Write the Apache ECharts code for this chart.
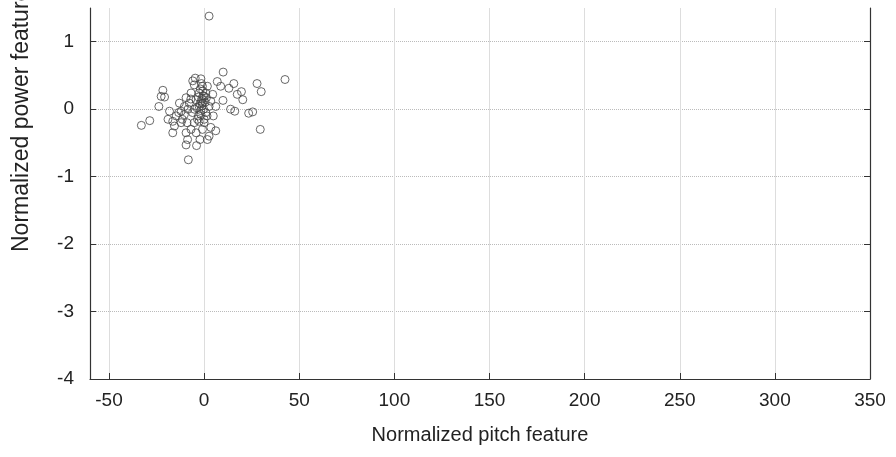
<!DOCTYPE html>
<html>
<head>
<meta charset="utf-8">
<script src="https://cdn.jsdelivr.net/npm/echarts@6/dist/echarts.min.js"></script>
<style>html,body{margin:0;padding:0;background:#fff;}#c{width:896px;height:457px;}</style>
</head>
<body>
<div id="c"></div>
<script>
const xTicks = [-50, 0, 50, 100, 150, 200, 250, 300, 350];
const yTicks = [-4, -3, -2, -1, 0, 1];
const pitch = [2.6,10,42.5,27.8,30,15.6,19.6,17.4,20.3,6.9,8.7,13,9.9,13.9,16.1,23.4,25.5,29.5,-21.7,-22.6,-20.8,-23.8,-28.6,-33,-18.2,-16.5,-15.6,-12.1,-13.4,-16.5,-9.5,-6.9,-8.7,-9.5,-4,-8.3,1.7,2.6,6.1,3.5,-0.9,0,-2.6,-4.7,-1.7,-5.2,-0.9,1.7,-6.9,-9.5,-10.4,-7.8,2.6,3.5,0,0.9,-1.7,-6.1,-5.2,-2.6,-0.9,-4.3,-2.6,0.9,-13,-12.1,-10.4,-14.7,-3.5,0,-5.2,6.1,-1.5,-0.5,-2,-1,0.5,-3,-1.2,-0.3,1.2,-2.2,-3.8,-1.8,-0.7,-1.4,4.5,-7,-8.5,-11.5,-4.2,-2.2,-3,1.5,4.8,-9,-19,-6];
const power = [1.38,0.55,0.44,0.38,0.26,0.38,0.26,0.22,0.14,0.41,0.34,0.31,0.13,0,-0.03,-0.06,-0.04,-0.3,0.28,0.19,0.18,0.04,-0.17,-0.24,-0.03,-0.18,-0.25,-0.2,-0.05,-0.35,-0.35,-0.3,-0.45,-0.53,-0.54,-0.75,-0.45,-0.4,-0.32,-0.27,-0.3,-0.2,-0.18,0.46,0.45,0.36,0.34,0.34,0.24,0.17,0.04,0.09,0.04,0.12,0.19,-0.05,-0.08,-0.05,0,0.04,0.09,0.14,0.24,0.24,0.09,-0.03,-0.08,-0.1,-0.15,-0.15,-0.2,0.04,0.12,0.2,0.3,0.05,0.1,0.18,0.16,0,0.17,0.08,0.02,-0.02,0.27,0.38,0.22,0.15,0,-0.15,-0.35,-0.45,-0.1,-0.1,-0.1,-0.2,-0.15,0.42];
const xTitle = 'Normalized pitch feature';
const yTitle = 'Normalized power feature';

const points = pitch.map((x, i) => [x, power[i]]);
const font = 'Liberation Sans, Arial, sans-serif';
const chart = echarts.init(document.getElementById('c'), null, {renderer: 'canvas'});
chart.setOption({
  backgroundColor: '#fff',
  animation: false,
  grid: {left: 90, right: 26, top: 8, bottom: 78},
  xAxis: {
    type: 'value', min: -60, max: 350,
    name: xTitle, nameLocation: 'middle', nameGap: 46,
    nameTextStyle: {fontFamily: font, fontSize: 20, color: '#222'},
    axisLine: {show: true, onZero: false, lineStyle: {color: '#333', width: 1.2}},
    axisTick: {show: true, inside: true, length: 6, customValues: xTicks, lineStyle: {color: '#333'}},
    axisLabel: {customValues: xTicks, fontFamily: font, fontSize: 19, color: '#222', margin: 12},
    splitLine: {show: true, lineStyle: {color: '#ddd', width: 1}}
  },
  yAxis: [{
    type: 'value', min: -4, max: 1.5, position: 'left',
    axisLine: {show: true, onZero: false, lineStyle: {color: '#333', width: 1.2}},
    axisTick: {show: true, inside: true, length: 6, customValues: yTicks, lineStyle: {color: '#333'}},
    axisLabel: {customValues: yTicks, fontFamily: font, fontSize: 19, color: '#222', margin: 16},
    splitLine: {show: true, lineStyle: {color: '#bbb', type: 'dotted', width: 1}}
  }, {
    type: 'value', min: -4, max: 1.5, position: 'right',
    axisLine: {show: true, onZero: false, lineStyle: {color: '#333', width: 1.2}},
    axisTick: {show: true, inside: true, length: 6, customValues: yTicks, lineStyle: {color: '#333'}},
    axisLabel: {show: false},
    splitLine: {show: false}
  }],
  graphic: [{
    type: 'text', x: 22, y: 252, rotation: Math.PI / 2,
    style: {text: yTitle, fill: '#222', font: '23px ' + font, textAlign: 'left', textVerticalAlign: 'middle'}
  }],
  series: [{
    type: 'scatter', yAxisIndex: 0,
    data: points, symbol: 'circle', symbolSize: 8,
    itemStyle: {color: 'rgba(0,0,0,0)', borderColor: '#444', borderWidth: 1}
  }]
});
</script>
</body>
</html>
